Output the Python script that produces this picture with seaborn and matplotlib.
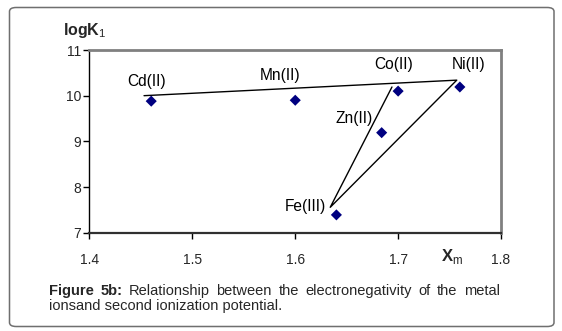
import numpy as np
import pandas as pd
import matplotlib
matplotlib.use('Agg')
import matplotlib.pyplot as plt
import seaborn as sns
from matplotlib.patches import FancyBboxPatch

# ---- data ----
metals = ['Cd(II)', 'Mn(II)', 'Co(II)', 'Ni(II)', 'Zn(II)', 'Fe(III)']
xm = [1.46, 1.60, 1.70, 1.76, 1.684, 1.64]
logk1 = [9.88, 9.90, 10.10, 10.19, 9.19, 7.39]
label_x = [1.455, 1.585, 1.696, 1.768, 1.657, 1.6095]
label_y = [10.30, 10.45, 10.685, 10.685, 9.50, 7.57]
line_x = [1.453, 1.757, 1.634, 1.694]
line_y = [10.00, 10.34, 7.556, 10.19]
x_ticks = [1.4, 1.5, 1.6, 1.7, 1.8]
y_ticks = [7, 8, 9, 10, 11]
caption_bold = ['Figure', '5b:']
caption_line1 = ['Relationship', 'between', 'the', 'electronegativity', 'of', 'the', 'metal']
caption_line2 = 'ionsand second ionization potential.'

sns.set_style('white')
plt.rcParams['font.family'] = ['Liberation Sans', 'DejaVu Sans']
plt.rcParams['mathtext.fontset'] = 'custom'
plt.rcParams['mathtext.rm'] = 'Liberation Sans'
plt.rcParams['mathtext.bf'] = 'Liberation Sans:bold'

W, H = 562, 331
fig = plt.figure(figsize=(W / 100, H / 100), dpi=100)
fig.patch.set_facecolor('white')

# outer rounded frame
frame = FancyBboxPatch((9.5 / W, (H - 326.5) / H), (554 - 9.5) / W, (326.5 - 7.5) / H,
                       boxstyle='round,pad=0,rounding_size=0.012',
                       transform=fig.transFigure, facecolor='none',
                       edgecolor='#6f6f6f', linewidth=1.1)
fig.add_artist(frame)

ax = fig.add_axes([89.5 / W, (H - 232.7) / H, (501 - 89.5) / W, (232.7 - 50) / H])

df = pd.DataFrame({'xm': xm, 'logk1': logk1, 'metal': metals})
line_df = pd.DataFrame({'x': line_x, 'y': line_y})

sns.lineplot(data=line_df, x='x', y='y', sort=False, estimator=None,
             color='black', linewidth=1.0, ax=ax)
sns.scatterplot(data=df, x='xm', y='logk1', marker='D', s=32,
                color='#000080', edgecolor='none', linewidth=0, ax=ax, zorder=3)

for m, lx, ly in zip(metals, label_x, label_y):
    ax.text(lx, ly, m, ha='center', va='center', fontsize=11.2, color='black')

ax.set_xlim(1.4, 1.8)
ax.set_ylim(7, 11)
ax.set_xticks(x_ticks)
ax.set_xticklabels([f'{v:.1f}' for v in x_ticks])
ax.set_yticks(y_ticks)
ax.set_yticklabels([str(v) for v in y_ticks])
ax.set_xlabel('')
ax.set_ylabel('')

for side in ['top', 'right']:
    ax.spines[side].set_color('#808080')
    ax.spines[side].set_linewidth(2.0)
ax.spines['left'].set_color('black')
ax.spines['left'].set_linewidth(1.0)
ax.spines['bottom'].set_color('#303030')
ax.spines['bottom'].set_linewidth(1.6)

ax.tick_params(axis='x', direction='out', length=4, width=1, color='black',
               pad=10.5, labelsize=10, bottom=True)
ax.tick_params(axis='y', direction='out', length=4, width=1, color='black',
               pad=2, labelsize=10, left=True)

# axis titles
fig.text(63 / W, (H - 31) / H, r'$\mathbf{logK}_{1}$', fontsize=11.5,
         ha='left', va='center')
fig.text(441 / W, (H - 256) / H, r'$\mathbf{X}_{\mathrm{m}}$', fontsize=12,
         ha='left', va='center')

# caption (justified first line)
renderer = fig.canvas.get_renderer()
left_px, right_px = 49.0, 500.0
y1 = (H - 294.7) / H
y2 = (H - 309.7) / H
cap_fs = 10.5
words = [(w, 'bold') for w in caption_bold] + [(w, 'normal') for w in caption_line1]
texts = []
total = 0.0
for w, wt in words:
    t = fig.text(0, y1, w, fontsize=cap_fs, fontweight=wt, ha='left', va='baseline')
    bb = t.get_window_extent(renderer)
    texts.append((t, bb.width))
    total += bb.width
gap = (right_px - left_px - total) / (len(words) - 1)
x = left_px
for t, wdt in texts:
    t.set_x(x / W)
    x += wdt + gap
fig.text(left_px / W, y2, caption_line2, fontsize=cap_fs, ha='left', va='baseline')

fig.savefig('out.png', dpi=100)
